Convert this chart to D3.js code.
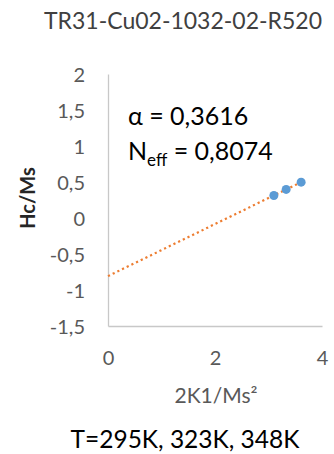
<!DOCTYPE html>
<html><head><meta charset="utf-8">
<script src="https://cdn.jsdelivr.net/npm/d3@7"></script>
<style>
html,body{margin:0;padding:0;background:#fff;}
svg{display:block;font-family:Lato, "Open Sans", sans-serif;}
</style></head>
<body>
<svg id="c" width="334" height="454"></svg>
<script>
// Data
const xValues = [3.10, 3.33, 3.61];          // 2K1/Ms²
const yValues = [0.313, 0.397, 0.498];       // Hc/Ms
const alpha = 0.3616;                        // slope of the trend line
const neff = 0.8074;                         // minus intercept
const xTicks = [0, 2, 4];
const yTicks = [2, 1.5, 1, 0.5, 0, -0.5, -1, -1.5];
const title = "TR31-Cu02-1032-02-R520";
const subtitle = "T=295K, 323K, 348K";
const xTitle = "2K1/Ms²";
const yTitle = "Hc/Ms";

const svg = d3.select("#c");
const x = d3.scaleLinear().domain([0, 4]).range([108, 322]);
const y = d3.scaleLinear().domain([-1.5, 2]).range([326, 74]);
const fmt = v => String(v).replace(".", ",");

// axes
const axisColor = "#c8c8c8";
const gx = svg.append("g").attr("transform", "translate(0,326)")
  .call(d3.axisBottom(x).tickValues(xTicks).tickSize(0).tickPadding(0).tickFormat(fmt));
gx.select(".domain").attr("stroke", axisColor).attr("stroke-width", 1.3);
gx.selectAll("text").attr("y", 39).attr("dy", null).attr("font-size", 20).attr("fill", "#595959").attr("font-family", "Lato");

const gy = svg.append("g").attr("transform", "translate(108,0)")
  .call(d3.axisLeft(y).tickValues(yTicks).tickSize(0).tickPadding(0).tickFormat(fmt));
gy.select(".domain").attr("stroke", axisColor).attr("stroke-width", 1.3);
gy.selectAll("text").attr("x", -23).attr("dy", "0.36em").attr("font-size", 20).attr("fill", "#595959").attr("font-family", "Lato");

// trend line
const x0 = 0, x1 = d3.max(xValues);
svg.append("line")
  .attr("x1", x(x0)).attr("y1", y(alpha * x0 - neff))
  .attr("x2", x(x1)).attr("y2", y(alpha * x1 - neff))
  .attr("stroke", "#ED7D31").attr("stroke-width", 2.2)
  .attr("stroke-dasharray", "2.2,3");

// points
svg.append("g").selectAll("circle").data(xValues).join("circle")
  .attr("cx", d => x(d)).attr("cy", (d, i) => y(yValues[i]))
  .attr("r", 4.5).attr("fill", "#5B9BD5");

// titles
svg.append("text").attr("x", 183).attr("y", 29).attr("text-anchor", "middle")
  .attr("font-size", 23).attr("fill", "#404040").text(title);
svg.append("text").attr("x", 216).attr("y", 403).attr("text-anchor", "middle")
  .attr("font-size", 21).attr("fill", "#595959").text(xTitle);
svg.append("text").attr("x", 185).attr("y", 448).attr("text-anchor", "middle")
  .attr("font-size", 24.5).attr("fill", "#000").text(subtitle);
svg.append("text").attr("transform", "translate(35,198) rotate(-90)").attr("text-anchor", "middle")
  .attr("font-size", 20).attr("font-weight", "bold").attr("fill", "#262626").text(yTitle);

// annotation
svg.append("text").attr("x", 128).attr("y", 125).attr("font-size", 25).attr("fill", "#000")
  .text("α = " + fmt(alpha));
const t2 = svg.append("text").attr("x", 128).attr("y", 160).attr("font-size", 25).attr("fill", "#000");
t2.append("tspan").text("N");
t2.append("tspan").attr("font-size", 17).attr("dy", 6).text("eff");
t2.append("tspan").attr("dy", -6).text(" = " + fmt(neff));
</script>
</body></html>
